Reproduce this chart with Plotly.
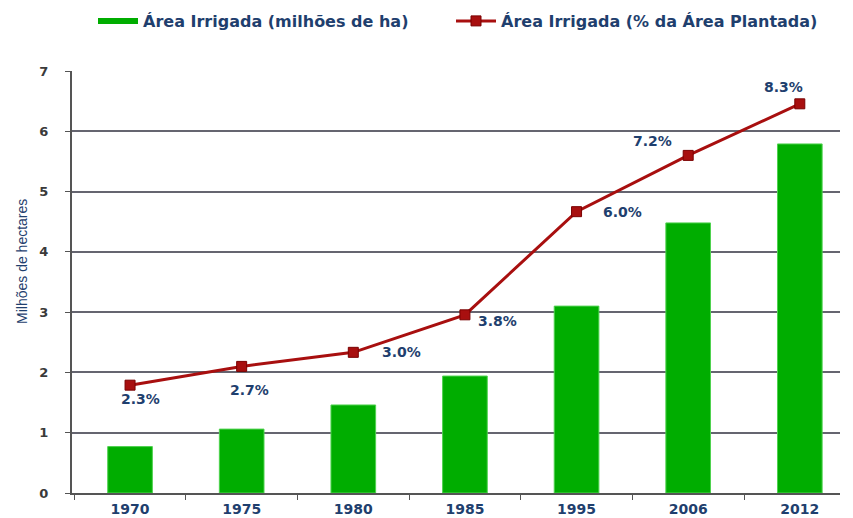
import plotly.graph_objects as go

# ---- data ----
years = ["1970", "1975", "1980", "1985", "1995", "2006", "2012"]
area_mha = [0.77, 1.06, 1.46, 1.94, 3.10, 4.48, 5.79]
area_pct = [2.3, 2.7, 3.0, 3.8, 6.0, 7.2, 8.3]
pct_labels = ["2.3%", "2.7%", "3.0%", "3.8%", "6.0%", "7.2%", "8.3%"]
left_ticks = [0, 1, 2, 3, 4, 5, 6, 7]
right_ticks = [1, 2, 3, 4, 5, 6, 7, 8]

name_bar = "Área Irrigada (milhões de ha)"
name_line = "Área Irrigada (% da Área Plantada)"
y_title = "Milhões de hectares"

# ---- styles ----
GREEN = "#00AD00"
RED = "#A80F0F"
NAVY = "#1F3F6E"
GRID = "#656570"
FONT = "DejaVu Sans"
label_shifts = [(10, -14), (8, -24), (48, 0), (33, -6), (46, 0), (-36, 14), (-16, 17)]

W, H = 845, 510
L, R, T, B = 64, 5, 63, 25
pw = W - L - R
ph = H - T - B
x_end = (832 - L) / pw
y2_pos = (837 - L) / pw

fig = go.Figure()

fig.add_trace(go.Bar(
    x=years, y=area_mha, name=name_bar, width=0.4,
    marker=dict(color=GREEN, line=dict(color="#4fd24f", width=1)),
    showlegend=False, yaxis="y",
))
# legend entry styled like the reference (thin wide green swatch)
fig.add_trace(go.Scatter(
    x=[None], y=[None], mode="lines", name=name_bar,
    line=dict(color=GREEN, width=6), yaxis="y", legend="legend",
))
fig.add_trace(go.Scatter(
    x=years, y=area_pct, name=name_line, mode="lines+markers",
    line=dict(color=RED, width=3),
    marker=dict(symbol="square", size=10, color=RED, line=dict(color="#7a0000", width=1)),
    yaxis="y2", legend="legend2",
))

for i, (v, t, (dx, dy)) in enumerate(zip(area_pct, pct_labels, label_shifts)):
    fig.add_annotation(
        x=i, y=v, xref="x", yref="y2", text=t, showarrow=False,
        xshift=dx, yshift=dy,
        font=dict(family=FONT, size=14, color=NAVY, weight="bold"),
    )

# y-axis title placed like the reference
fig.add_annotation(
    x=(14 - L) / pw, y=1 - (254 - T) / ph, xref="paper", yref="paper",
    xanchor="center", yanchor="middle",
    text=y_title, textangle=-90, showarrow=False,
    font=dict(family="Liberation Sans Narrow, Liberation Sans", size=14, color=NAVY),
)

legend_common = dict(
    orientation="h", yref="container", xref="container",
    y=1 - 13 / H, yanchor="middle", xanchor="left",
    font=dict(family=FONT, size=16, color=NAVY, weight="bold"),
    bgcolor="rgba(0,0,0,0)", itemwidth=40,
)

fig.update_layout(
    width=W, height=H,
    margin=dict(l=L, r=R, t=T, b=B),
    paper_bgcolor="white", plot_bgcolor="white",
    font=dict(family=FONT, color=NAVY),
    legend=dict(legend_common, x=85 / W),
    legend2=dict(legend_common, x=443 / W),
    xaxis=dict(
        domain=[0, x_end], type="category", range=[-0.52, 6.36],
        showline=True, linecolor="#555555", linewidth=2,
        ticks="outside", tickson="boundaries", ticklen=5, tickcolor="#555555",
        tickfont=dict(family=FONT, size=14, color=NAVY, weight="bold"),
        ticklabelstandoff=2, automargin=False, showgrid=False,
    ),
    yaxis=dict(
        range=[0, 7], tickvals=left_ticks,
        showline=True, linecolor="#555555", linewidth=2,
        ticks="outside", ticklen=5, tickcolor="#555555",
        showgrid=True, gridcolor=GRID, gridwidth=1.5,
        tickfont=dict(family=FONT, size=13, color="#3a3a3a", weight="bold"),
        ticklabelstandoff=14, zeroline=False, automargin=False,
    ),
    yaxis2=dict(
        range=[0, 9], tickvals=right_ticks, overlaying="y", side="right",
        anchor="free", position=y2_pos,
        showline=False, showgrid=False, zeroline=False,
        ticks="outside", ticklen=6, tickcolor="#555555",
        showticklabels=False, automargin=False,
    ),
)

fig.write_html("out.html")
